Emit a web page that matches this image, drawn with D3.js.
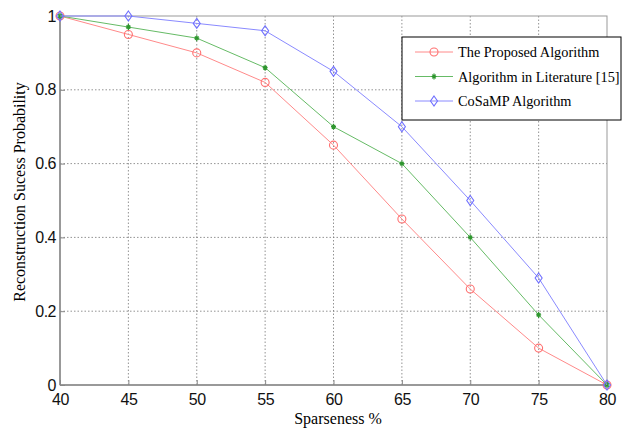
<!DOCTYPE html>
<html>
<head>
<meta charset="utf-8">
<script src="https://cdn.jsdelivr.net/npm/d3@7"></script>
<style>
body { margin: 0; background: #fff; }
</style>
</head>
<body>
<script>
// data
var sparseness = [40, 45, 50, 55, 60, 65, 70, 75, 80];
var proposed = [1, 0.95, 0.90, 0.82, 0.65, 0.45, 0.26, 0.10, 0];
var literature = [1, 0.97, 0.94, 0.86, 0.70, 0.60, 0.40, 0.19, 0];
var cosamp = [1, 1, 0.98, 0.96, 0.85, 0.70, 0.50, 0.29, 0];
var seriesNames = ["The Proposed Algorithm", "Algorithm in Literature [15]", "CoSaMP Algorithm"];
var xTicks = [40, 45, 50, 55, 60, 65, 70, 75, 80];
var yTicks = [0, 0.2, 0.4, 0.6, 0.8, 1];

var w = 622, h = 430;
var plotLeft = 60, plotRight = 607, plotTop = 16, plotBottom = 385;

var svg = d3.select("body").append("svg")
    .attr("width", w)
    .attr("height", h);

var x = d3.scaleLinear().domain([40, 80]).range([plotLeft, plotRight]);
var y = d3.scaleLinear().domain([0, 1]).range([plotBottom, plotTop]);

// grid
svg.append("g").selectAll("line").data(xTicks.slice(1, -1)).enter().append("line")
    .attr("x1", d => x(d)).attr("x2", d => x(d))
    .attr("y1", plotTop).attr("y2", plotBottom)
    .style("stroke", "#777").style("stroke-width", 0.8).style("stroke-dasharray", "1.5,2");
svg.append("g").selectAll("line").data(yTicks.slice(1, -1)).enter().append("line")
    .attr("x1", plotLeft).attr("x2", plotRight)
    .attr("y1", d => y(d)).attr("y2", d => y(d))
    .style("stroke", "#777").style("stroke-width", 0.8).style("stroke-dasharray", "1.5,2");

// frame
svg.append("rect")
    .attr("x", plotLeft).attr("y", plotTop)
    .attr("width", plotRight - plotLeft).attr("height", plotBottom - plotTop)
    .style("fill", "none").style("stroke", "#999").style("stroke-width", 1);
svg.append("line").attr("x1", plotLeft).attr("x2", plotLeft).attr("y1", plotTop).attr("y2", plotBottom)
    .style("stroke", "#888").style("stroke-width", 1.5);
svg.append("line").attr("x1", plotLeft).attr("x2", plotRight).attr("y1", plotBottom).attr("y2", plotBottom)
    .style("stroke", "#888").style("stroke-width", 1.5);

// axes
var xAxis = d3.axisBottom(x).tickValues(xTicks).tickSize(-5).tickPadding(9);
var yAxis = d3.axisLeft(y).tickValues(yTicks).tickSize(-5).tickPadding(4)
    .tickFormat(d => d3.format("~g")(d));
var gx = svg.append("g").attr("transform", "translate(0," + plotBottom + ")").call(xAxis);
var gy = svg.append("g").attr("transform", "translate(" + plotLeft + ",0)").call(yAxis);
[gx, gy].forEach(function (g) {
    g.select(".domain").remove();
    g.selectAll(".tick line").style("stroke", "#888");
    g.selectAll(".tick text")
        .style("font-family", "'Liberation Sans', Arial, sans-serif")
        .style("font-size", "16px")
        .style("fill", "#111")
        .style("letter-spacing", "-0.5px");
});

// labels
svg.append("text")
    .attr("x", 338).attr("y", 424)
    .attr("text-anchor", "middle")
    .style("font-family", "'Liberation Serif', 'Times New Roman', serif")
    .style("font-size", "16px")
    .text("Sparseness %");
svg.append("text")
    .attr("transform", "translate(25,192) rotate(-90)")
    .attr("text-anchor", "middle")
    .style("font-family", "'Liberation Serif', 'Times New Roman', serif")
    .style("font-size", "16px")
    .text("Reconstruction Sucess Probability");

var lineColors = ["#ff8a8a", "#66bb66", "#8a8aff"];
var markColors = ["#ff7070", "#2e962e", "#6f6fff"];
var allSeries = [proposed, literature, cosamp];
var markers = ["circle", "star", "diamond"];

var line = d3.line()
    .x((d, i) => x(sparseness[i]))
    .y(d => y(d));

function drawMarker(g, type, cx, cy, color) {
    if (type === "circle") {
        g.append("circle").attr("cx", cx).attr("cy", cy).attr("r", 4)
            .style("fill", "none").style("stroke", color).style("stroke-width", 1.1);
    } else if (type === "diamond") {
        g.append("path")
            .attr("d", "M" + cx + "," + (cy - 5) + "L" + (cx + 3.5) + "," + cy + "L" + cx + "," + (cy + 5) + "L" + (cx - 3.5) + "," + cy + "Z")
            .style("fill", "none").style("stroke", color).style("stroke-width", 1.1);
    } else {
        g.append("path")
            .attr("d", "M" + (cx - 2.5) + "," + cy + "L" + (cx + 2.5) + "," + cy +
                "M" + cx + "," + (cy - 3) + "L" + cx + "," + (cy + 3) +
                "M" + (cx - 1.8) + "," + (cy - 1.8) + "L" + (cx + 1.8) + "," + (cy + 1.8) +
                "M" + (cx - 1.8) + "," + (cy + 1.8) + "L" + (cx + 1.8) + "," + (cy - 1.8))
            .style("stroke", color).style("stroke-width", 1.2);
    }
}

allSeries.forEach(function (s, k) {
    var g = svg.append("g");
    g.append("path").datum(s).attr("d", line)
        .style("fill", "none").style("stroke", lineColors[k]).style("stroke-width", 1);
    s.forEach(function (v, i) {
        drawMarker(g, markers[k], x(sparseness[i]), y(v), markColors[k]);
    });
});

// legend
var lg = svg.append("g");
lg.append("rect")
    .attr("x", 402).attr("y", 37).attr("width", 219).attr("height", 83)
    .style("fill", "#fff").style("stroke", "#000").style("stroke-width", 1);
seriesNames.forEach(function (name, k) {
    var ly = 52 + k * 24.5;
    lg.append("line").attr("x1", 415).attr("x2", 453).attr("y1", ly).attr("y2", ly)
        .style("stroke", lineColors[k]).style("stroke-width", 1);
    drawMarker(lg, markers[k], 434, ly, markColors[k]);
    lg.append("text")
        .attr("x", 458).attr("y", ly + 5)
        .style("font-family", "'Liberation Serif', 'Times New Roman', serif")
        .style("font-size", "14.3px")
        .text(name);
});
</script>
</body>
</html>
